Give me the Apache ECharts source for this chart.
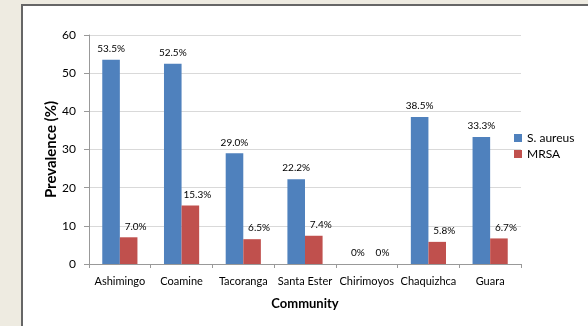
<!DOCTYPE html>
<html><head><meta charset="utf-8">
<script src="https://cdn.jsdelivr.net/npm/echarts@6/dist/echarts.min.js"></script>
<style>html,body{margin:0;padding:0;background:#EEEBE1;}#c{width:588px;height:326px;}</style>
</head><body><div id="c"></div>
<script>
var categories = ['Ashimingo','Coamine','Tacoranga','Santa Ester','Chirimoyos','Chaquizhca','Guara'];
var saureus = [53.5, 52.5, 29.0, 22.2, 0, 38.5, 33.3];
var mrsa = [7.0, 15.3, 6.5, 7.4, 0, 5.8, 6.7];
var yTicks = [0, 10, 20, 30, 40, 50, 60];
var font = 'Lato, "Open Sans", sans-serif';
var chart = echarts.init(document.getElementById('c'));
function fmt(p){ return p.value === 0 ? '0%' : p.value.toFixed(1) + '%'; }
chart.setOption({
  backgroundColor: '#EEEBE1',
  animation: false,
  textStyle: { fontFamily: font },
  graphic: [{ type: 'rect', z: -10, shape: { x: 22, y: 5, width: 600, height: 400 },
    style: { fill: '#ffffff', stroke: '#666666', lineWidth: 2 } }],
  grid: { left: 89, right: 67, top: 35, bottom: 62 },
  legend: {
    orient: 'vertical', left: 509, top: 127, itemWidth: 8, itemHeight: 8, itemGap: 4,
    icon: 'rect', textStyle: { fontSize: 12, color: '#000', fontFamily: font },
    data: ['S. aureus', 'MRSA']
  },
  xAxis: {
    type: 'category', data: categories, name: 'Community', nameLocation: 'middle', nameGap: 33,
    nameMoveOverlap: false,
    nameTextStyle: { fontSize: 13, fontWeight: 'bold', color: '#000', fontFamily: font },
    axisLine: { lineStyle: { color: '#999' } },
    axisTick: { show: true, length: 4, lineStyle: { color: '#999' } },
    axisLabel: { fontSize: 11, color: '#000', interval: 0, margin: 12, fontFamily: font }
  },
  yAxis: {
    type: 'value', min: yTicks[0], max: yTicks[yTicks.length-1], interval: 10,
    name: 'Prevalence (%)', nameLocation: 'middle', nameGap: 30, nameMoveOverlap: false,
    nameTextStyle: { fontSize: 15, fontWeight: 'bold', color: '#000', fontFamily: font },
    axisLine: { show: true, lineStyle: { color: '#999' } },
    axisTick: { show: true, length: 5, lineStyle: { color: '#999' } },
    splitLine: { lineStyle: { color: '#d9d9d9' } },
    axisLabel: { fontSize: 12, color: '#000', margin: 13, fontFamily: font }
  },
  series: [
    { name: 'S. aureus', type: 'bar', data: saureus, barGap: '0%', barCategoryGap: '43%',
      itemStyle: { color: '#4F81BD' },
      label: { show: true, position: 'top', distance: 6, fontSize: 10, color: '#000', formatter: fmt, fontFamily: font } },
    { name: 'MRSA', type: 'bar', data: mrsa,
      itemStyle: { color: '#C0504D' },
      label: { show: true, position: 'top', distance: 6, offset: [7, 0], fontSize: 10, color: '#000', formatter: fmt, fontFamily: font } }
  ]
});
</script></body></html>
